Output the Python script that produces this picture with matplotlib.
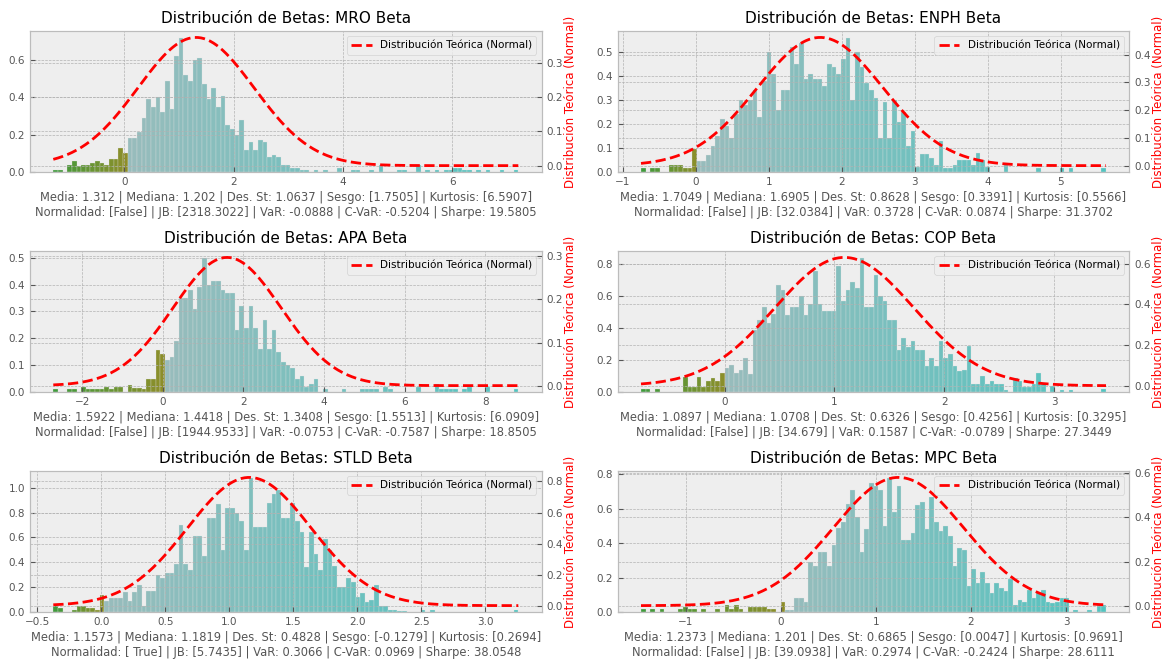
"""Beta distributions per ticker: histogram (density) + theoretical normal on twin axis."""
import matplotlib
matplotlib.use("Agg")
import matplotlib.pyplot as plt
import numpy as np
from matplotlib.colors import LinearSegmentedColormap

tickers = ["MRO", "ENPH", "APA", "COP", "STLD", "MPC"]

# data range (min, max) of each beta sample -> 100 equal bins
x_min = [-1.30, -0.75, -2.72, -0.76, -0.375, -1.47]
x_max = [7.21, 5.62, 8.82, 3.47, 3.26, 3.42]

# density per bin (100 bins each)
dens_mro = [0.01, 0.01, 0, 0.04, 0.06, 0.03, 0.04, 0.04, 0.05, 0.06,
            0.05, 0.04, 0.07, 0.07, 0.13, 0.10, 0.18, 0.18, 0.215, 0.29,
            0.39, 0.35, 0.40, 0.32, 0.49, 0.34, 0.62, 0.72, 0.52, 0.49,
            0.60, 0.61, 0.47, 0.39, 0.45, 0.35, 0.41, 0.25, 0.23, 0.20,
            0.28, 0.12, 0.16, 0.12, 0.17, 0.16, 0.08, 0.09, 0.08, 0.04,
            0.04, 0.02, 0.02, 0.01, 0.01, 0, 0.01, 0, 0.01, 0,
            0, 0.02, 0, 0, 0.01, 0.01, 0, 0, 0.01, 0,
            0.04, 0, 0, 0, 0.01, 0.01, 0, 0, 0.04, 0,
            0.01, 0, 0.01, 0, 0.01, 0.01, 0.02, 0.02, 0.01, 0.01,
            0, 0.01, 0, 0.01, 0, 0, 0.01, 0, 0, 0.01]
dens_enph = [0.015, 0, 0.015, 0.015, 0, 0, 0.03, 0.03, 0.03, 0.015,
             0.015, 0.095, 0.044, 0.044, 0.07, 0.11, 0.15, 0.22, 0.19, 0.14,
             0.24, 0.30, 0.28, 0.30, 0.34, 0.23, 0.38, 0.50, 0.41, 0.26,
             0.34, 0.34, 0.52, 0.45, 0.54, 0.39, 0.41, 0.39, 0.39, 0.36,
             0.45, 0.44, 0.41, 0.47, 0.56, 0.30, 0.50, 0.44, 0.37, 0.34,
             0.31, 0.14, 0.29, 0.14, 0.30, 0.21, 0.25, 0.11, 0.17, 0.02,
             0.075, 0.075, 0.06, 0.03, 0.13, 0.015, 0.015, 0.03, 0.05, 0.05,
             0.05, 0.03, 0.08, 0.05, 0.02, 0, 0, 0, 0.03, 0,
             0, 0, 0, 0, 0, 0.015, 0, 0, 0, 0,
             0.015, 0, 0.015, 0, 0, 0, 0, 0, 0, 0.015]
dens_apa = [0.01, 0, 0, 0.01, 0.01, 0, 0.02, 0.01, 0.01, 0.01,
            0.01, 0.02, 0.01, 0.02, 0.02, 0, 0.025, 0.016, 0.016, 0.01,
            0.05, 0.05, 0.156, 0.14, 0.12, 0.13, 0.19, 0.35, 0.35, 0.38,
            0.31, 0.39, 0.50, 0.40, 0.415, 0.415, 0.38, 0.37, 0.37, 0.23,
            0.32, 0.24, 0.32, 0.24, 0.16, 0.27, 0.16, 0.23, 0.15, 0.11,
            0.10, 0.09, 0.05, 0.06, 0.02, 0.03, 0.05, 0, 0.01, 0,
            0, 0, 0.01, 0, 0, 0, 0.01, 0.01, 0.01, 0.01,
            0, 0.02, 0.01, 0, 0, 0, 0, 0, 0.02, 0,
            0, 0, 0.03, 0.01, 0.01, 0.01, 0.01, 0, 0.01, 0.02,
            0, 0, 0, 0.02, 0, 0, 0, 0, 0, 0.01]
dens_cop = [0.02, 0.02, 0, 0.02, 0, 0, 0, 0, 0, 0.097,
            0.03, 0.03, 0.093, 0.03, 0.07, 0.09, 0.07, 0.12, 0.15, 0.17,
            0.12, 0.14, 0.21, 0.11, 0.39, 0.45, 0.53, 0.43, 0.49, 0.67,
            0.64, 0.48, 0.53, 0.53, 0.60, 0.48, 0.55, 0.76, 0.55, 0.505,
            0.505, 0.505, 0.79, 0.57, 0.64, 0.69, 0.65, 0.84, 0.53, 0.53,
            0.73, 0.60, 0.57, 0.45, 0.45, 0.26, 0.34, 0.28, 0.32, 0.26,
            0.26, 0.16, 0.21, 0.16, 0.32, 0.21, 0.24, 0.16, 0.13, 0.14,
            0.29, 0.05, 0.05, 0.10, 0.05, 0.07, 0.05, 0.05, 0.01, 0,
            0.09, 0.07, 0.03, 0.03, 0.05, 0.12, 0.05, 0, 0.04, 0,
            0.01, 0, 0.01, 0, 0, 0, 0, 0, 0, 0.02]
dens_stld = [0.05, 0.03, 0, 0, 0.02, 0.05, 0.05, 0.03, 0.03, 0.02,
             0.14, 0.09, 0.11, 0.11, 0.11, 0.16, 0.085, 0.16, 0.22, 0.05,
             0.165, 0.165, 0.30, 0.27, 0.31, 0.31, 0.39, 0.70, 0.39, 0.34,
             0.61, 0.61, 0.45, 0.76, 0.76, 0.87, 0.50, 0.84, 0.84, 0.80,
             0.73, 0.50, 1.08, 0.68, 0.68, 0.68, 0.875, 0.95, 0.98, 0.76,
             0.76, 0.875, 0.73, 0.64, 0.36, 0.64, 0.47, 0.34, 0.59, 0.50,
             0.37, 0.20, 0.20, 0.27, 0.24, 0.12, 0.15, 0.08, 0.10, 0.22,
             0.05, 0.05, 0.02, 0.02, 0.01, 0.01, 0, 0, 0, 0.015,
             0, 0.015, 0, 0, 0, 0, 0, 0, 0, 0,
             0, 0, 0, 0, 0, 0, 0, 0, 0, 0.015]
dens_mpc = [0.015, 0, 0.015, 0, 0.015, 0, 0, 0, 0.015, 0.03,
            0.015, 0.015, 0, 0.015, 0, 0, 0.015, 0, 0.04, 0.015,
            0.04, 0.015, 0, 0.03, 0.03, 0.03, 0.03, 0.015, 0.015, 0,
            0.06, 0.013, 0.013, 0.08, 0.08, 0.06, 0.29, 0.27, 0.35, 0.35,
            0.27, 0.39, 0.49, 0.52, 0.63, 0.71, 0.55, 0.35, 0.48, 0.75,
            0.73, 0.71, 0.50, 0.78, 0.58, 0.73, 0.42, 0.42, 0.46, 0.62,
            0.64, 0.48, 0.67, 0.52, 0.47, 0.50, 0.44, 0.27, 0.37, 0.36,
            0.15, 0.25, 0.17, 0.23, 0.17, 0.11, 0.17, 0.14, 0.12, 0.19,
            0.04, 0.07, 0.06, 0.13, 0.08, 0.11, 0.13, 0.06, 0.05, 0.06,
            0.08, 0.08, 0, 0.01, 0, 0, 0.01, 0, 0.04, 0.04]
densities = [dens_mro, dens_enph, dens_apa, dens_cop, dens_stld, dens_mpc]

# summary statistics printed under each panel
media = [1.312, 1.7049, 1.5922, 1.0897, 1.1573, 1.2373]
mediana = [1.202, 1.6905, 1.4418, 1.0708, 1.1819, 1.201]
des_st = [1.0637, 0.8628, 1.3408, 0.6326, 0.4828, 0.6865]
sesgo = ["1.7505", "0.3391", "1.5513", "0.4256", "-0.1279", "0.0047"]
kurtosis = ["6.5907", "0.5566", "6.0909", "0.3295", "0.2694", "0.9691"]
normalidad = ["False", "False", "False", "False", " True", "False"]
jb = ["2318.3022", "32.0384", "1944.9533", "34.679", "5.7435", "39.0938"]
var = ["-0.0888", "0.3728", "-0.0753", "0.1587", "0.3066", "0.2974"]
cvar = ["-0.5204", "0.0874", "-0.7587", "-0.0789", "0.0969", "-0.2424"]
sharpe = ["19.5805", "31.3702", "18.8505", "27.3449", "38.0548", "28.6111"]

plt.style.use("bmh")
plt.rcParams["xtick.labelsize"] = 7.5
plt.rcParams["ytick.labelsize"] = 7.5
plt.rcParams["xtick.color"] = "#555555"
plt.rcParams["ytick.color"] = "#555555"

neg_cmap = LinearSegmentedColormap.from_list("neg", ["#3f9a3c", "#8e8e2a"])
pos_cmap = LinearSegmentedColormap.from_list("pos", ["#98bcbc", "#50c4c0"])

fig, axes = plt.subplots(3, 2, figsize=(11.69, 6.6), dpi=100)
fig.subplots_adjust(left=0.0257, right=0.966, bottom=0.0727, top=0.953,
                    wspace=0.149, hspace=0.56)

for i, ax in enumerate(axes.flat):
    lo, hi = x_min[i], x_max[i]
    edges = np.linspace(lo, hi, len(densities[i]) + 1)
    w = edges[1] - edges[0]
    left = edges[:-1]
    colors = [neg_cmap((e - lo) / (0 - lo)) if e < 0 else pos_cmap(e / hi) for e in left]
    ax.bar(left, densities[i], width=w, align="edge", color=colors,
           edgecolor="#e4e4e4", linewidth=0.2)
    ax.set_title(f"Distribución de Betas: {tickers[i]} Beta", fontsize=11)
    txt = (f"Media: {media[i]} | Mediana: {mediana[i]} | Des. St: {des_st[i]} | "
           f"Sesgo: [{sesgo[i]}] | Kurtosis: [{kurtosis[i]}]\n"
           f"Normalidad: [{normalidad[i]}] | JB: [{jb[i]}] | VaR: {var[i]} | "
           f"C-VaR: {cvar[i]} | Sharpe: {sharpe[i]}")
    ax.set_xlabel(txt, fontsize=8.3, color="#555555", labelpad=3)

    ax2 = ax.twinx()
    xs = np.linspace(lo, hi, 300)
    pdf = np.exp(-0.5 * ((xs - media[i]) / des_st[i]) ** 2) / (des_st[i] * np.sqrt(2 * np.pi))
    ax2.plot(xs, pdf, "--", color="red", linewidth=2, label="Distribución Teórica (Normal)")
    ax2.set_ylabel("Distribución Teórica (Normal)", color="red", fontsize=8.5, labelpad=1)
    ax2.legend(loc="upper right", fontsize=7.5)

fig.savefig("out.png", dpi=100)
